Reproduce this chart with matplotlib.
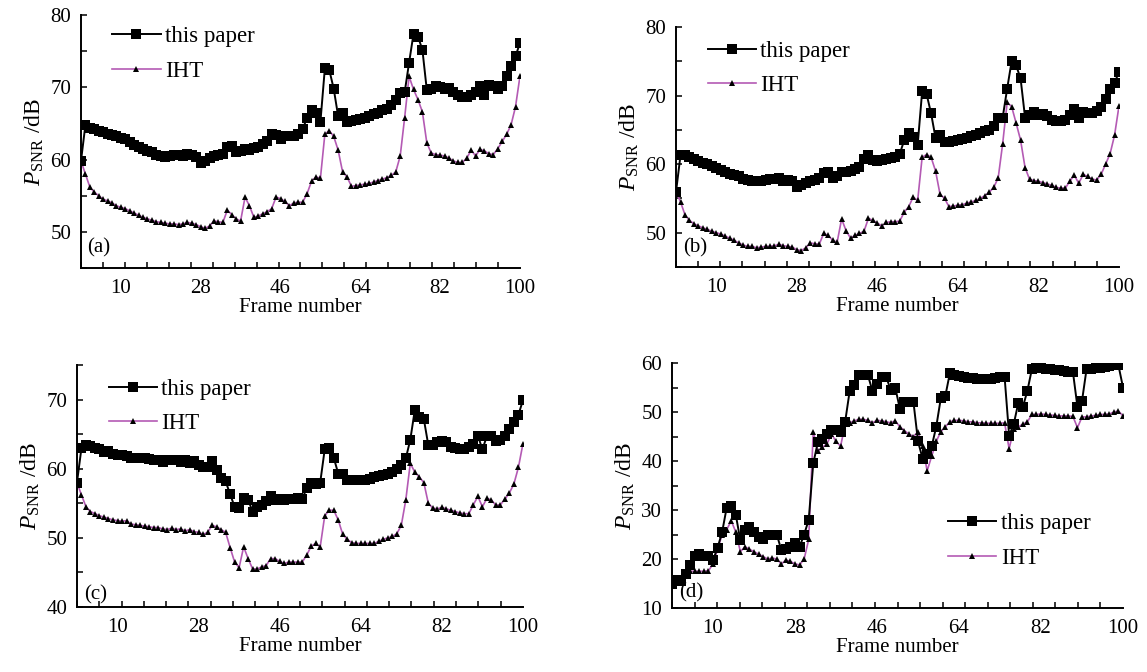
import matplotlib
matplotlib.use("Agg")
import matplotlib.pyplot as plt
import numpy as np

plt.rcParams['font.family'] = ['Liberation Serif', 'DejaVu Serif']
plt.rcParams['mathtext.fontset'] = 'custom'
plt.rcParams['mathtext.rm'] = 'Liberation Serif'
plt.rcParams['mathtext.it'] = 'Liberation Serif:italic'

frames = list(range(1, 101))
xtick_labels = [10, 28, 46, 64, 82, 100]

# (a)
a_ours = [59.8, 64.8, 64.4, 64.2, 64.0, 63.8, 63.5, 63.4, 63.2, 63.0,
          62.8, 62.4, 62.0, 61.8, 61.5, 61.2, 61.0, 60.7, 60.5, 60.4,
          60.5, 60.6, 60.6, 60.5, 60.8, 60.7, 60.3, 59.5, 59.8, 60.2,
          60.5, 60.6, 60.8, 61.7, 61.9, 61.0, 61.2, 61.5, 61.3, 61.6,
          61.8, 62.2, 62.5, 63.5, 63.4, 62.8, 63.2, 63.3, 63.3, 63.6,
          64.2, 65.8, 66.8, 66.4, 65.2, 72.6, 72.4, 69.8, 66.0, 66.5,
          65.2, 65.4, 65.5, 65.6, 65.8, 66.0, 66.3, 66.5, 66.8, 67.0,
          67.5, 68.2, 69.2, 69.3, 73.4, 77.4, 77.0, 75.2, 69.6, 69.8,
          70.2, 70.0, 69.8, 69.9, 69.4, 68.9, 68.7, 68.7, 69.0, 69.4,
          70.2, 69.0, 70.3, 70.2, 69.8, 70.2, 71.5, 73.0, 74.3, 76.1]
a_iht = [59.8, 58.0, 56.2, 55.5, 55.0, 54.5, 54.3, 54.0, 53.6, 53.4,
         53.2, 52.9, 52.6, 52.3, 52.0, 51.8, 51.6, 51.4, 51.3, 51.2,
         51.1, 51.1, 51.0, 51.1, 51.3, 51.2, 51.0, 50.7, 50.5, 50.8,
         51.5, 51.4, 51.3, 53.0, 52.4, 51.8, 51.5, 54.8, 53.6, 52.0,
         52.2, 52.5, 52.8, 53.2, 54.8, 54.6, 54.2, 53.6, 54.0, 54.1,
         54.1, 55.3, 57.0, 57.6, 57.4, 63.5, 64.0, 63.2, 61.3, 58.3,
         57.6, 56.3, 56.4, 56.5, 56.6, 56.7, 56.9, 57.1, 57.3, 57.5,
         57.8, 58.3, 60.5, 65.8, 71.5, 69.7, 68.3, 66.6, 62.3, 60.9,
         60.7, 60.6, 60.5, 60.2, 59.8, 59.6, 59.6, 60.2, 61.3, 60.5,
         61.4, 61.2, 60.8, 60.7, 61.5, 62.5, 63.5, 64.8, 67.3, 71.5]

# (b)
b_ours = [56.0, 61.3, 61.3, 61.0, 60.7, 60.4, 60.2, 60.0, 59.7, 59.5,
          59.2, 58.9, 58.6, 58.4, 58.2, 57.9, 57.7, 57.5, 57.5, 57.6,
          57.7, 57.8, 57.8, 58.0, 57.6, 57.7, 57.5, 56.7, 57.0, 57.3,
          57.6, 57.7, 58.0, 58.7, 58.8, 58.0, 58.2, 58.8, 58.8, 59.0,
          59.3, 59.6, 60.8, 61.3, 60.6, 60.5, 60.6, 60.8, 60.9, 61.0,
          61.5, 63.5, 64.5, 64.0, 62.8, 70.6, 70.2, 67.4, 63.8, 64.3,
          63.2, 63.3, 63.4, 63.5, 63.7, 63.8, 64.1, 64.3, 64.5, 64.8,
          65.0, 65.5, 66.8, 66.8, 71.0, 75.0, 74.4, 72.5, 66.8, 67.1,
          67.6, 67.2, 67.3, 67.0, 66.5, 66.3, 66.3, 66.5, 67.2, 68.0,
          66.7, 67.6, 67.5, 67.4, 67.8, 68.4, 69.5, 71.0, 71.8, 73.5]
b_iht = [56.0, 54.5, 52.6, 51.8, 51.3, 51.0, 50.7, 50.5, 50.2, 50.0,
         49.8, 49.5, 49.2, 48.9, 48.5, 48.2, 48.0, 48.0, 47.8, 47.9,
         48.0, 48.0, 48.1, 48.3, 48.1, 48.0, 47.9, 47.5, 47.4, 47.8,
         48.5, 48.4, 48.3, 49.9, 49.6, 48.9, 48.6, 52.0, 50.3, 49.2,
         49.6, 49.9, 50.2, 52.1, 51.8, 51.4, 51.0, 51.5, 51.6, 51.6,
         51.7, 53.0, 53.8, 55.2, 54.7, 61.0, 61.4, 61.0, 59.0, 55.6,
         55.0, 53.8, 53.9, 54.0, 54.1, 54.3, 54.5, 54.7, 55.0, 55.4,
         55.9, 56.6, 58.0, 63.0, 69.0, 68.4, 66.0, 63.5, 59.5, 57.8,
         57.6, 57.5, 57.3, 57.1, 56.9, 56.6, 56.5, 56.5, 57.5, 58.4,
         57.2, 58.5, 58.2, 57.8, 57.7, 58.5, 60.0, 61.5, 64.2, 68.5]

# (c)
c_ours = [58.0, 63.0, 63.4, 63.3, 63.0, 62.8, 62.4, 62.6, 62.2, 62.0,
          62.0, 61.8, 61.6, 61.6, 61.5, 61.5, 61.4, 61.3, 61.2, 61.0,
          61.3, 61.2, 61.3, 61.0, 61.2, 60.8, 61.1, 60.6, 60.2, 60.3,
          61.1, 59.8, 58.7, 58.2, 56.3, 54.5, 54.3, 55.7, 55.5, 53.8,
          54.5, 54.7, 55.3, 56.0, 55.5, 55.6, 55.5, 55.6, 55.6, 55.7,
          55.6, 57.2, 58.0, 57.8, 58.0, 62.8, 63.0, 61.6, 59.3, 59.2,
          58.3, 58.3, 58.3, 58.3, 58.3, 58.5, 58.8, 59.0, 59.1, 59.2,
          59.5, 60.0, 60.5, 61.5, 64.2, 68.5, 67.5, 67.2, 63.4, 63.4,
          63.8, 64.0, 63.8, 63.2, 63.0, 62.8, 62.8, 63.2, 63.6, 64.8,
          62.8, 64.7, 64.7, 64.0, 64.2, 64.8, 65.8, 66.8, 67.8, 69.9]
c_iht = [58.0, 56.2, 54.5, 53.8, 53.5, 53.2, 53.0, 52.8, 52.6, 52.5,
         52.4, 52.5, 52.0, 51.9, 51.8, 51.7, 51.6, 51.5, 51.5, 51.3,
         51.2, 51.4, 51.2, 51.3, 51.0, 51.2, 50.9, 50.8, 50.5, 50.8,
         51.8, 51.6, 51.2, 50.8, 48.6, 46.5, 45.7, 48.7, 47.0, 45.5,
         45.5, 45.8, 46.0, 47.0, 47.0, 46.6, 46.3, 46.5, 46.5, 46.5,
         46.5, 47.5, 48.8, 49.2, 48.7, 53.2, 54.0, 54.0, 52.6, 50.5,
         49.8, 49.3, 49.2, 49.2, 49.2, 49.2, 49.2, 49.5, 49.8, 50.0,
         50.2, 50.6, 51.8, 55.5, 60.8, 59.5, 58.8, 58.0, 55.0, 54.3,
         54.2, 54.4, 54.2, 54.0, 53.8, 53.6, 53.5, 53.5, 54.8, 56.0,
         54.5, 55.7, 55.5, 54.7, 54.8, 55.6, 56.5, 57.8, 60.2, 63.6]

# (d)
d_ours = [15.0, 15.8, 15.6, 17.0, 18.8, 20.7, 21.0, 20.6, 20.6, 19.8,
          22.3, 25.5, 30.5, 30.8, 29.0, 23.8, 26.0, 26.5, 25.5, 24.5,
          24.0, 25.0, 25.0, 25.0, 21.8, 22.0, 22.5, 23.2, 22.5, 25.0,
          28.0, 39.5, 43.8, 44.5, 45.5, 46.3, 46.3, 46.0, 48.0, 54.3,
          55.5, 57.5, 57.5, 57.5, 54.3, 55.8, 57.2, 57.2, 54.5, 55.0,
          50.7, 52.0, 52.0, 52.0, 44.0, 40.5, 41.5, 43.0, 47.0, 52.8,
          53.3, 58.0, 57.5, 57.3, 57.2, 57.0, 57.0, 56.8, 56.8, 56.8,
          56.8, 57.0, 57.2, 57.2, 45.2, 47.5, 51.8, 51.0, 54.3, 58.8,
          59.0, 59.0, 58.8, 58.7, 58.6, 58.5, 58.3, 58.2, 58.2, 51.0,
          52.3, 58.8, 58.8, 58.9, 59.0, 59.2, 59.3, 59.5, 59.5, 55.0]
d_iht = [15.0, 15.8, 15.6, 16.5, 17.5, 17.5, 17.5, 17.5, 17.6, 19.0,
         22.0, 25.0, 26.0, 27.8, 25.5, 21.5, 22.5, 22.0, 21.5, 21.0,
         20.5, 20.0, 20.2, 20.0, 19.0, 19.8, 19.5, 19.0, 18.8, 20.0,
         24.0, 46.0, 42.0, 42.8, 43.5, 45.5, 44.0, 43.0, 47.5, 47.8,
         48.2, 48.5, 48.5, 48.3, 47.8, 48.3, 48.2, 48.0, 47.8, 48.2,
         47.0, 46.2, 45.5, 45.0, 46.0, 43.0, 38.0, 41.0, 44.0, 46.0,
         47.0, 48.0, 48.3, 48.3, 48.2, 48.0, 48.0, 47.8, 47.8, 47.7,
         47.7, 47.7, 47.7, 47.8, 42.5, 46.5, 47.0, 47.5, 48.0, 49.5,
         49.5, 49.6, 49.5, 49.4, 49.3, 49.2, 49.2, 49.2, 49.1, 46.8,
         49.0, 49.0, 49.2, 49.3, 49.5, 49.5, 49.6, 50.0, 50.2, 49.2]

IHT_COLOR = '#b45ab4'

panels = [
    # ours, iht, rect, ylim, labeled y ticks, tag, tag pos, legend anchor
    (a_ours, a_iht, [0.0706, 0.6012, 0.3827, 0.3765], (45, 80), [50, 60, 70, 80], '(a)', (0.015, 0.08), ('upper left', (0.035, 1.02))),
    (b_ours, b_iht, [0.5894, 0.6027, 0.3862, 0.3571], (45, 80), [50, 60, 70, 80], '(b)', (0.015, 0.08), ('upper left', (0.035, 1.01))),
    (c_ours, c_iht, [0.0671, 0.0967, 0.3888, 0.3601], (40, 75), [40, 50, 60, 70], '(c)', (0.015, 0.05), ('upper left', (0.035, 1.01))),
    (d_ours, d_iht, [0.5859, 0.0952, 0.3932, 0.3646], (10, 60), [10, 20, 30, 40, 50, 60], '(d)', (0.015, 0.06), ('center', (0.77, 0.275))),
]

fig = plt.figure(figsize=(11.47, 6.72), dpi=100)

for ours, iht, rect, ylim, yt, tag, tagpos, leg in panels:
    ax = fig.add_axes(rect)
    ax.plot(frames, ours, color='black', lw=1.4, marker='s', ms=7,
            markeredgewidth=0, label='this paper', zorder=3)
    ax.plot(frames, iht, color=IHT_COLOR, lw=1.2, marker='^', ms=4,
            markerfacecolor='black', markeredgecolor='black', markeredgewidth=0,
            label='IHT', zorder=2)

    ax.set_xlim(1, 100)
    ax.set_ylim(*ylim)
    ax.spines['top'].set_visible(False)
    ax.spines['right'].set_visible(False)
    for s in ('left', 'bottom'):
        ax.spines[s].set_linewidth(1.4)

    ax.set_xticks(xtick_labels)
    ax.set_xticks(np.linspace(1, 100, 21), minor=True)
    ax.tick_params(axis='x', which='major', length=0, pad=8, labelsize=15)
    ax.tick_params(axis='x', which='minor', direction='in', length=4, width=1.1)
    ax.set_yticks(yt)
    ax.set_yticks(np.arange(ylim[0], ylim[1] + 0.1, 5), minor=True)
    ax.tick_params(axis='y', which='both', direction='in', length=4, width=1.1,
                   pad=7, labelsize=15)

    ax.set_xlabel('Frame number', fontsize=15, labelpad=0)
    ax.set_ylabel(r'$P_{\mathrm{SNR}}$ /dB', fontsize=17, labelpad=3)
    ax.text(tagpos[0], tagpos[1], tag, transform=ax.transAxes, fontsize=15,
            ha='left', va='center')
    ax.legend(loc=leg[0], bbox_to_anchor=leg[1], frameon=False, fontsize=16.5,
              handlelength=2.1, handletextpad=0.2, labelspacing=0.6,
              borderaxespad=0.3)

fig.savefig('out.png', dpi=100, facecolor='white')
